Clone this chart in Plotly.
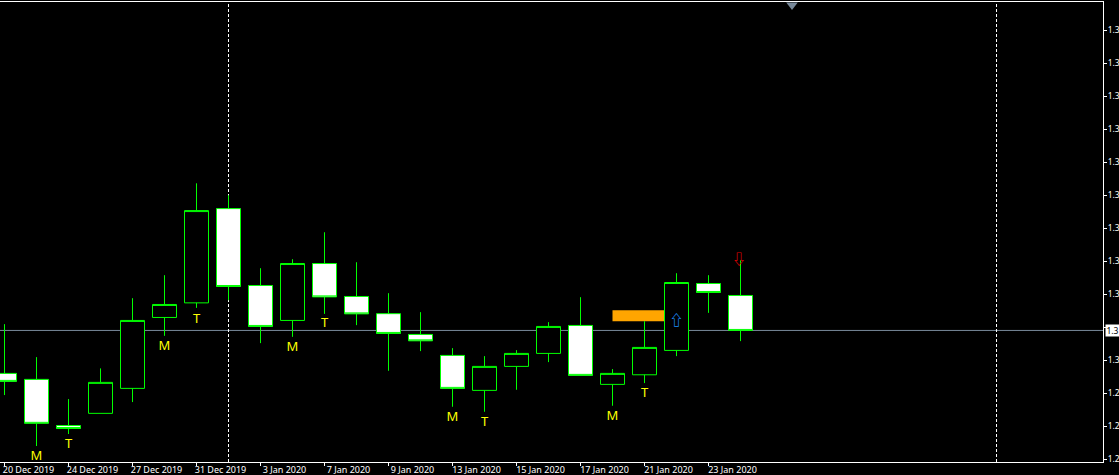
import plotly.graph_objects as go

# ---- data (prices) ----
bars = list(range(24))
opens  = [1.29867,1.29807,1.29345,1.29467,1.29717,1.30427,1.30573,1.31517,1.30747,1.30397,1.30967,1.30637,
          1.30465,1.30257,1.30047,1.29697,1.29937,1.30067,1.30347,1.29757,1.29853,1.30097,1.30767,1.30647]
highs  = [1.3036,1.3003,1.2961,1.29917,1.3062,1.3085,1.3177,1.3165,1.3092,1.3101,1.3128,1.3098,
          1.3067,1.3048,1.3012,1.3004,1.3010,1.3038,1.3063,1.2991,1.3039,1.3087,1.3085,1.3100]
lows   = [1.2965,1.2914,1.2926,1.29467,1.2958,1.30243,1.30523,1.3060,1.3017,1.30233,1.30463,1.3035,
          1.29893,1.3009,1.29533,1.29483,1.29703,1.2998,1.29847,1.29543,1.2977,1.3004,1.30473,1.3019]
closes = [1.29787,1.29367,1.29315,1.29777,1.30397,1.30557,1.31497,1.30737,1.30337,1.30967,1.30633,1.30463,
          1.30267,1.30193,1.29717,1.29937,1.30067,1.30337,1.29847,1.29867,1.30127,1.30777,1.30677,1.30297]

date_ticks = [0,2,4,6,8,10,12,14,16,18,20,22]
date_labels = ["20 Dec 2019","24 Dec 2019","27 Dec 2019","31 Dec 2019","3 Jan 2020","7 Jan 2020",
               "9 Jan 2020","13 Jan 2020","15 Jan 2020","17 Jan 2020","21 Jan 2020","23 Jan 2020"]
price_ticks = [1.3330,1.3297,1.3264,1.3231,1.3198,1.3165,1.3132,1.3099,1.3066,1.3033,1.3000,1.2967,1.2934,1.2901]
price_labels = ["1.3","1.3","1.3","1.3","1.3","1.3","1.3","1.3","1.3","","1.3","1.2","1.2","1.2"]

letter_x = [1,2,5,6,9,10,14,15,19,20]
letter_y = [1.2903,1.2915,1.3013,1.3040,1.3012,1.3036,1.2942,1.2937,1.2943,1.2966]
letter_t = ["M","T","M","T","M","T","M","T","M","T"]

bid_price = 1.30297
bid_label = "1.3"
separators = [7, 31]
zone_x = [19, 21]
zone_y = [1.3039, 1.3050]
up_arrow = (21, 1.30385)
down_arrow = (22.95, 1.30995)
shift_mark = (24.61, 1.33555)

GREEN = "#00ff00"
SLATE = "#778899"
X_RANGE = [-0.1406, 34.3281]
Y_RANGE = [1.2898, 1.33585]

fig = go.Figure()

fig.add_trace(go.Candlestick(
    x=bars, open=opens, high=highs, low=lows, close=closes,
    increasing=dict(line=dict(color=GREEN, width=1), fillcolor="#000000"),
    decreasing=dict(line=dict(color=GREEN, width=1), fillcolor="#ffffff"),
    whiskerwidth=0, showlegend=False, hoverinfo="skip",
))
fig.add_trace(go.Scatter(
    x=letter_x, y=letter_y, text=letter_t, mode="text", textposition="middle center",
    textfont=dict(family="Noto Sans", size=13, color="#ffff00"), showlegend=False, hoverinfo="skip",
))
fig.add_trace(go.Scatter(
    x=[up_arrow[0]], y=[up_arrow[1]], text=["\u21e7"], mode="text", textposition="middle center",
    textfont=dict(family="Noto Sans CJK SC", size=14, color="#1e90ff", weight=700), showlegend=False, hoverinfo="skip",
))
fig.add_trace(go.Scatter(
    x=[down_arrow[0]], y=[down_arrow[1]], text=["\u21e9"], mode="text", textposition="middle center",
    textfont=dict(family="Noto Sans CJK SC", size=14, color="#e00000", weight=700), showlegend=False, hoverinfo="skip",
))
fig.add_trace(go.Scatter(
    x=[shift_mark[0]], y=[shift_mark[1]], mode="markers",
    marker=dict(symbol="triangle-down", size=10, color=SLATE, line=dict(width=0)),
    cliponaxis=False, showlegend=False, hoverinfo="skip",
))

fig.add_shape(type="rect", xref="x", yref="y", x0=zone_x[0], x1=zone_x[1], y0=zone_y[0], y1=zone_y[1],
              fillcolor="#ffa500", line=dict(width=0), layer="below")
fig.add_shape(type="line", xref="paper", yref="y", x0=0, x1=1, y0=bid_price, y1=bid_price,
              line=dict(color=SLATE, width=1), layer="below")
for s in separators:
    fig.add_shape(type="line", xref="x", yref="paper", x0=s, x1=s, y0=0, y1=1,
                  line=dict(color="#ffffff", width=1, dash="3px,2px"), layer="below")

fig.add_annotation(
    xref="paper", yref="y", x=1, y=bid_price, xanchor="left", xshift=2, text=bid_label, showarrow=False,
    bgcolor="#ffffff", font=dict(family="Noto Sans", size=8.5, color="#000000"),
    borderpad=0, width=13, height=11, align="center",
)

fig.update_layout(
    width=1119, height=475,
    autosize=False,
    margin=dict(l=0, r=15.5, t=1.5, b=13, pad=0, autoexpand=False),
    paper_bgcolor="#000000", plot_bgcolor="#000000",
    boxgap=0.25, boxgroupgap=0, showlegend=False,
    font=dict(family="Noto Sans", size=9, color="#ffffff"),
    xaxis=dict(
        range=X_RANGE, rangeslider=dict(visible=False), showgrid=False, zeroline=False,
        tickmode="array", tickvals=date_ticks, ticktext=date_labels,
        ticks="outside", ticklen=3, tickwidth=1, tickcolor="#ffffff",
        ticklabelshift=24, ticklabelstandoff=-4,
        tickfont=dict(family="Noto Sans", size=9, color="#ffffff"),
        showline=True, linecolor="#ffffff", linewidth=1, mirror=True,
    ),
    yaxis=dict(
        range=Y_RANGE, side="right", showgrid=False, zeroline=False,
        tickmode="array", tickvals=price_ticks, ticktext=price_labels,
        ticks="outside", ticklen=3, tickwidth=1, tickcolor="#ffffff",
        ticklabelstandoff=-1,
        tickfont=dict(family="Noto Sans", size=8.5, color="#ffffff"),
        showline=True, linecolor="#ffffff", linewidth=1,
    ),
)
fig.write_html("out.html", config=dict(displayModeBar=False),
               post_script="document.body.style.margin='0';document.body.style.background='#000';document.body.style.overflow='hidden';")
